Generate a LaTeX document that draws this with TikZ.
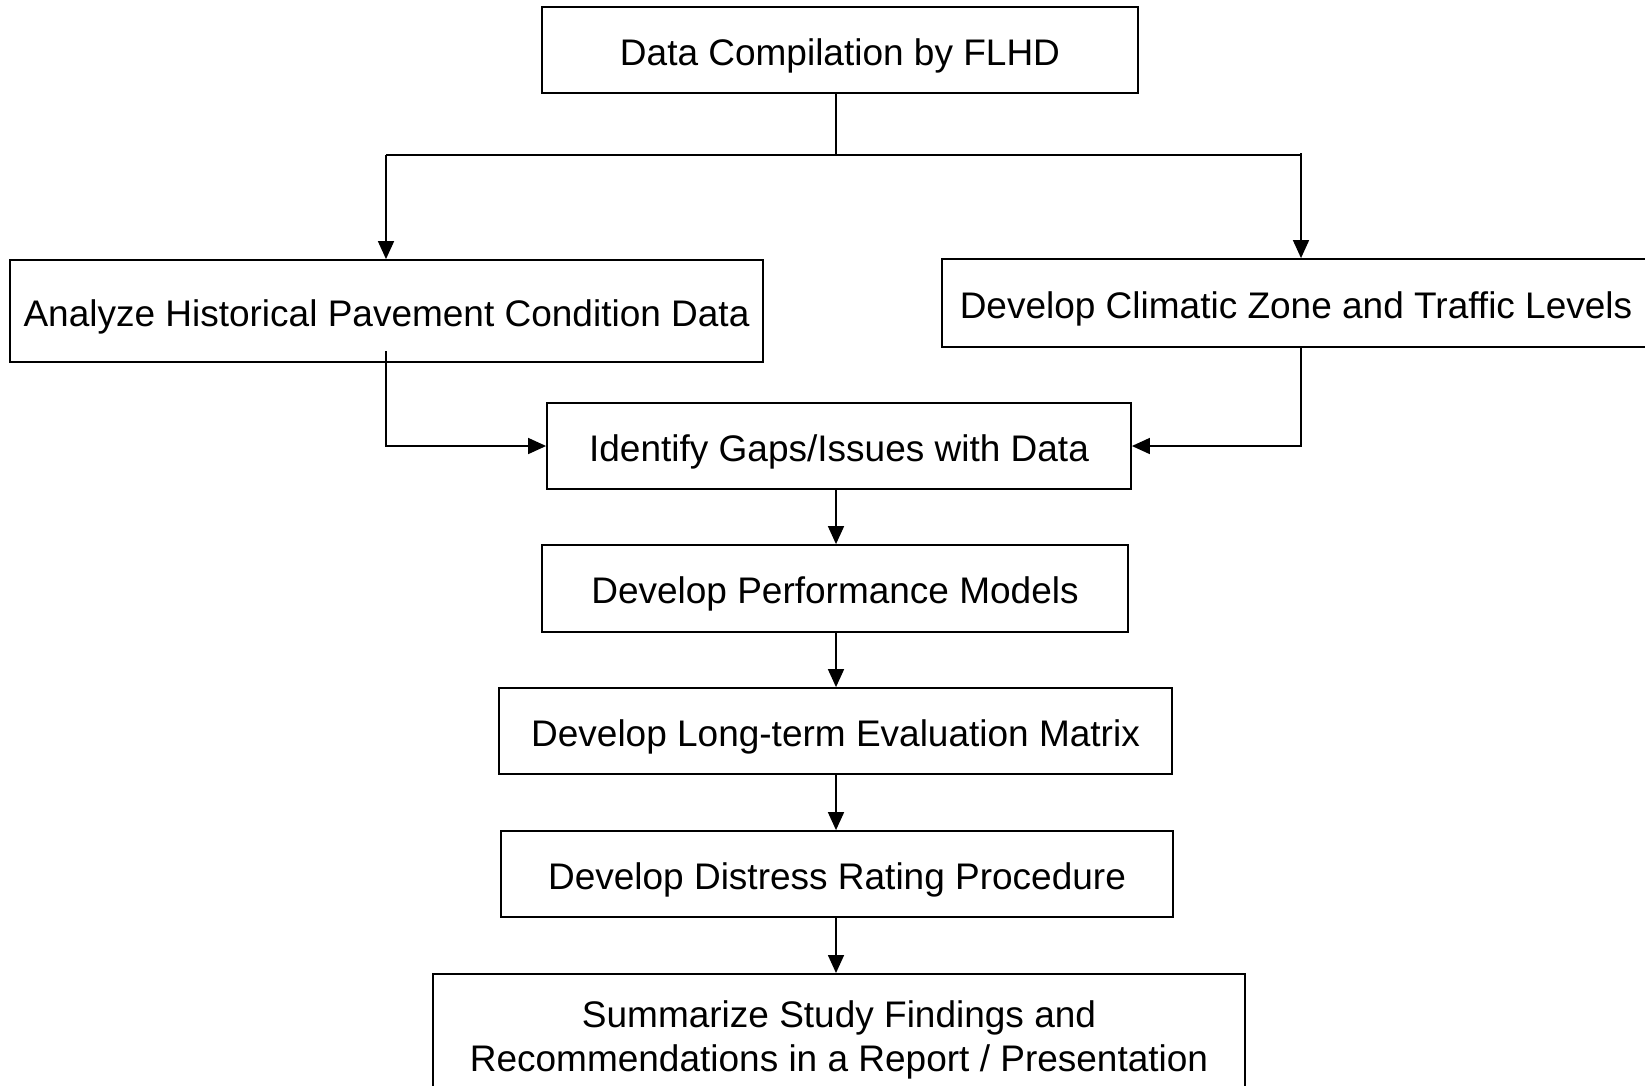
\documentclass[tikz,border=0pt]{standalone}
\usepackage{fontspec}
\setmainfont{Liberation Sans}
\usetikzlibrary{arrows.meta}
\begin{document}
\begin{tikzpicture}[x=1pt,y=-1pt,
  box/.style={draw=black,line width=1.8pt,fill=white,inner sep=0pt,align=center,
    text height=30pt,text depth=0pt,
    font=\fontsize{37}{44}\selectfont},
  conn/.style={line width=1.6pt},
  arr/.style={line width=1.6pt,-{Triangle[length=18pt,width=16pt]}}]
\useasboundingbox (0,0) rectangle (1645,1085);
\fill[white] (0,0) rectangle (1645,1085);
\node[box,minimum width=596pt,minimum height=86pt] (top) at (840,50) {Data Compilation by FLHD};
\node[box,minimum width=753pt,minimum height=102pt] (left) at (386.5,311) {Analyze Historical Pavement Condition Data};
\node[box,minimum width=708pt,minimum height=88pt] (right) at (1296,303) {Develop Climatic Zone and Traffic Levels};
\node[box,minimum width=584pt,minimum height=86pt] (ident) at (839,446) {Identify Gaps/Issues with Data};
\node[box,minimum width=586pt,minimum height=87pt] (perf) at (835,588.5) {Develop Performance Models};
\node[box,minimum width=673pt,minimum height=86pt] (long) at (835.5,731) {Develop Long-term Evaluation Matrix};
\node[box,minimum width=672pt,minimum height=86pt] (dist) at (837,874) {Develop Distress Rating Procedure};
\node[box,text height=,text depth=,minimum width=812pt,minimum height=132pt,anchor=north] (summ) at (839,973) {\raisebox{16pt}{\parbox{800pt}{\centering Summarize Study Findings and\\Recommendations in a Report / Presentation}}};
\coordinate (jc) at (836,155);
\coordinate (jl) at (386,155);
\coordinate (jr) at (1301,155);
\coordinate (ls) at (386,351);
\draw[conn] (top.south -| jc) -- (jc);
\draw[conn] (jl) -- (jr);
\draw[arr] (jl) -- (jl |- left.north);
\draw[arr] ([yshift=2pt]jr) -- (jr |- right.north);
\draw[arr] (ls) |- (ident.west);
\draw[arr] (right.south -| jr) |- (ident.east);
\draw[arr] (ident.south -| jc) -- (perf.north -| jc);
\draw[arr] (perf.south -| jc) -- (long.north -| jc);
\draw[arr] (long.south -| jc) -- (dist.north -| jc);
\draw[arr] (dist.south -| jc) -- (summ.north -| jc);
\end{tikzpicture}
\end{document}
